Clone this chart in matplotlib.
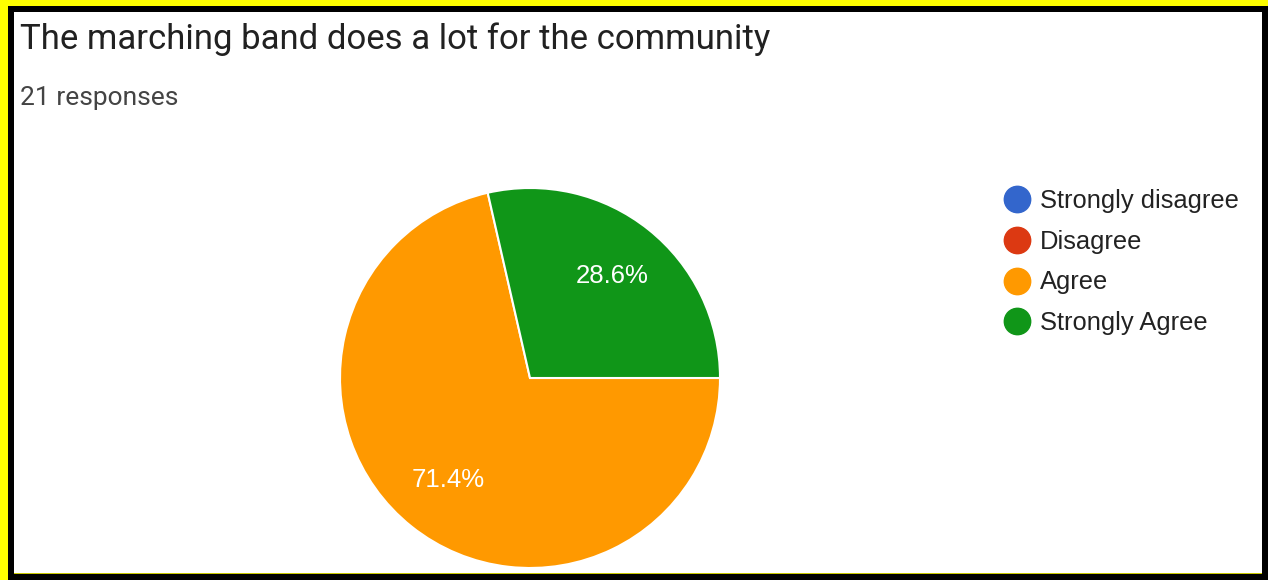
import matplotlib
matplotlib.use("Agg")
import matplotlib.pyplot as plt
from matplotlib.lines import Line2D
from matplotlib.patches import Rectangle

# Survey results
title = "The marching band does a lot for the community"
subtitle = "21 responses"
categories = ["Strongly disagree", "Disagree", "Agree", "Strongly Agree"]
counts = [0, 0, 15, 6]
colors = ["#3366cc", "#dc3912", "#ff9900", "#109618"]

W, H = 1268, 580
fig = plt.figure(figsize=(W / 100, H / 100), dpi=100)
fig.patch.set_facecolor("#ffff00")

# Frame: black border with a white panel inside
fig.add_artist(Rectangle((8 / W, 0), 1 - 8 / W, 1 - 6 / H, transform=fig.transFigure,
                         facecolor="black", edgecolor="none", zorder=0))
fig.add_artist(Rectangle((14 / W, (H - 573) / H), (1262 - 14) / W, (573 - 12) / H,
                         transform=fig.transFigure, facecolor="white", edgecolor="none", zorder=0))
fig.add_artist(Rectangle((14 / W, (H - 574) / H), (1262 - 14) / W, 1.5 / H,
                         transform=fig.transFigure, facecolor="#c8c800", edgecolor="none", zorder=0))

fig.text(20 / W, 1 - 39 / H, title, fontsize=25, family="Roboto", color="#212121",
         va="center", ha="left")
fig.text(20 / W, 1 - 98 / H, subtitle, fontsize=19, family="Roboto", color="#444444",
         va="center", ha="left")

# Pie chart
cx, cy, r = 530, 378, 190
ax = fig.add_axes([(cx - r) / W, (H - cy - r) / H, 2 * r / W, 2 * r / H])
ax.set_facecolor("none")


def pct(v):
    return f"{v:.1f}%" if v > 0 else ""


wedges, texts, autotexts = ax.pie(
    counts, colors=colors, startangle=0, counterclock=False, radius=1,
    autopct=pct, pctdistance=0.69,
    wedgeprops=dict(edgecolor="white", linewidth=1.5),
    textprops=dict(color="white", fontsize=18.5, family="Liberation Sans"),
)
ax.set_xlim(-1, 1)
ax.set_ylim(-1, 1)
ax.set_aspect("equal")
ax.axis("off")

# Legend
handles = [Line2D([0], [0], marker="o", linestyle="none", markersize=19,
                  markerfacecolor=c, markeredgecolor=c) for c in colors]
leg = fig.legend(handles, categories, loc="upper left",
                 bbox_to_anchor=(1000 / W, 1 - 189 / H), frameon=False,
                 prop=dict(family="Liberation Sans", size=18.4),
                 labelspacing=0.655, handletextpad=0.25, handlelength=1.3,
                 borderpad=0, borderaxespad=0)
for t in leg.get_texts():
    t.set_color("#222222")

fig.savefig("out.png", dpi=100, facecolor=fig.get_facecolor())
